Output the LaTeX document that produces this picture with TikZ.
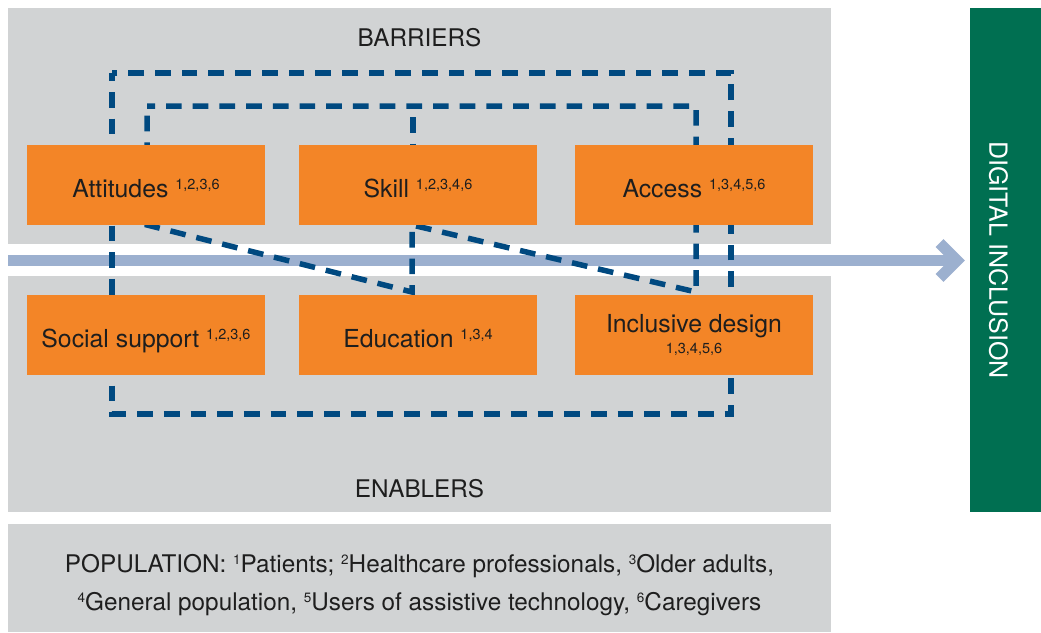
\documentclass[tikz,border=0pt]{standalone}
\usepackage{fontspec}
\setmainfont{TeX Gyre Heros}
\definecolor{panelgray}{RGB}{209,211,212}
\definecolor{boxorange}{RGB}{243,133,39}
\definecolor{dashblue}{RGB}{0,73,128}
\definecolor{arrowblue}{RGB}{156,176,207}
\definecolor{incgreen}{RGB}{0,111,81}
\definecolor{txt}{RGB}{30,30,30}
\newcommand\myss[1]{\raisebox{8pt}{\fontsize{14.5}{14.5}\selectfont #1}}
\newcommand\myps[1]{\raisebox{7.5pt}{\fontsize{13.5}{13.5}\selectfont #1}}
\begin{document}
\begin{tikzpicture}[x=1pt,y=-1pt,
  panel/.style={fill=panelgray},
  box/.style={fill=boxorange, draw=none, minimum width=238pt, minimum height=80pt,
    inner sep=0pt, font=\fontsize{24.8}{28}\selectfont, text=txt,
    text height=24pt, text depth=0pt},
  lbl/.style={font=\fontsize{24.8}{28}\selectfont, text=txt, inner sep=0pt, anchor=base},
  sublbl/.style={font=\fontsize{14.5}{14.5}\selectfont, text=txt, inner sep=0pt, anchor=base},
  title/.style={font=\fontsize{24.3}{28}\selectfont, text=txt, inner sep=0pt, anchor=base},
  dashline/.style={draw=dashblue, line width=5.5pt, dash pattern=on 15.7pt off 11pt},
  arrowline/.style={draw=arrowblue, line width=11pt}
]
\useasboundingbox (0,0) rectangle (1041,632);
% panels
\fill[panel] (8,8) rectangle (831,244);
\fill[panel] (8,276) rectangle (831,512);
\fill[panel] (8,524) rectangle (831,632);
\node[fill=incgreen, minimum width=71pt, minimum height=504pt, inner sep=0pt] (green) at (1005.5,260) {};
% arrow
\coordinate (arrS) at (8,260.5);
\coordinate (arrT) at (957,260.5);
\coordinate (arrU) at (939.5,243);
\coordinate (arrD) at (939.5,278);
\draw[arrowline] (arrS) -- (arrT);
\draw[arrowline] (arrU) -- (arrT) -- (arrD);
% dashed connections
\coordinate (o1) at (112,73);
\coordinate (o2) at (731,414);
\draw[dashline, dash phase=7.7pt] (o1) rectangle (o2);
\coordinate (i1) at (147,106);
\coordinate (i2) at (696,106);
\coordinate (i3) at (696,292);
\coordinate (i4) at (412,225);
\coordinate (i5) at (412,292);
\coordinate (i6) at (147,225);
\draw[dashline, dash phase=7.7pt] (i1) -- (i2) -- (i3) -- (i4) -- (i5) -- (i6) -- cycle;
\coordinate (s1) at (413,106);
\coordinate (s2) at (413,145);
\draw[dashline, dash phase=15.7pt] (s1) -- (s2);
% boxes
\node[box] (att) at (146,185) {Attitudes \myss{1,2,3,6}};
\node[box] (skill) at (418,185) {Skill \myss{1,2,3,4,6}};
\node[box] (acc) at (694,185) {Access \myss{1,3,4,5,6}};
\node[box] (soc) at (146,335) {Social support \myss{1,2,3,6}};
\node[box] (edu) at (418,335) {Education \myss{1,3,4}};
\node[box] (incl) at (694,335) {};
\node[lbl] (incltxt) at (694,332) {Inclusive design};
\node[sublbl] (inclsup) at (694,353) {1,3,4,5,6};
% titles
\node[title] (bar) at (419.5,46.7) {BARRIERS};
\node[title] (ena) at (419.5,497) {ENABLERS};
\node[title] (pop1) at (419.5,572) {POPULATION: \myps{1}Patients; \myps{2}Healthcare professionals, \myps{3}Older adults,};
\node[title] (pop2) at (419.5,610) {\myps{4}General population, \myps{5}Users of assistive technology, \myps{6}Caregivers};
\node[font=\fontsize{25}{28}\selectfont, text=white, rotate=-90, inner sep=0pt] (dig) at (998.5,260) {DIGITAL INCLUSION};
\end{tikzpicture}
\end{document}
